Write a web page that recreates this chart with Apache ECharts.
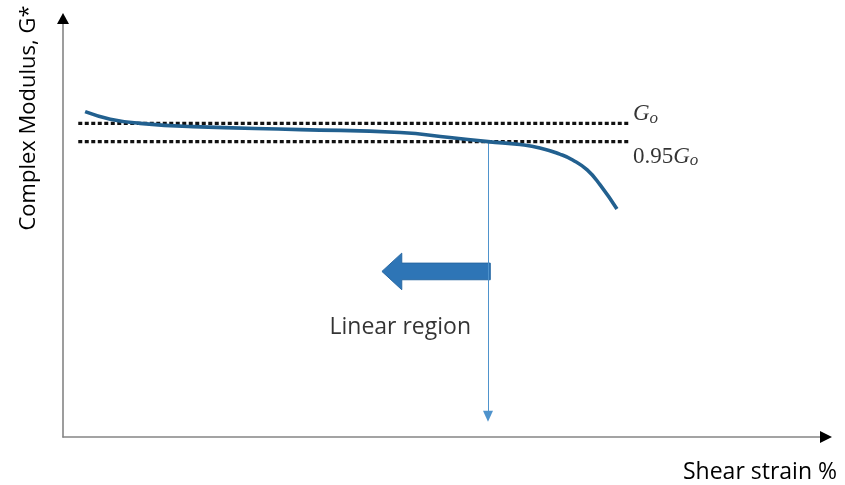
<!DOCTYPE html>
<html>
<head>
<meta charset="utf-8">
<script src="https://cdn.jsdelivr.net/npm/echarts@6/dist/echarts.min.js"></script>
<style>
  html, body { margin: 0; padding: 0; background: #fff; }
  #chart { width: 845px; height: 485px; }
</style>
</head>
<body>
<div id="chart"></div>
<script>
// Modulus vs. strain curve (schematic units, 0–100 on both axes)
const strainPts  = [2.9, 6.2, 10.1, 17.0, 31.1, 44.2, 50.7, 55.7, 59.9, 62.5, 65.1, 66.8, 68.7, 70.4, 72.6];
const modulusPts = [78.2, 76.4, 75.4, 74.6, 73.9, 73.2, 72.0, 71.0, 70.3, 69.5, 68.0, 66.6, 64.2, 60.6, 54.8];

// Reference levels
const refLevels = [75.4, 71.0];          // G_o and 0.95 G_o
const refSpan   = [2.0, 74.3];           // x extent of the dotted lines

// Linear-region limit (where the curve meets 0.95 G_o)
const limitStrain   = 55.7;
const limitArrowEnd = 5.0;

// Left-pointing block arrow: [tailX, headBaseX, tipX, centreY, bodyHalf, headHalf]
const blockArrow = [56.0, 44.4, 41.8, 39.8, 2.0, 4.4];

// Text annotations
const labelG0   = [74.7, 77.6];
const labelG095 = [74.7, 67.4];
const labelLin  = [44.2, 26.4];

const curveData = strainPts.map((x, i) => [x, modulusPts[i]]);

const mathRich = {
  n: { fontFamily: 'Liberation Serif', fontSize: 23, color: '#000' },
  g: { fontFamily: 'Liberation Serif', fontStyle: 'italic', fontSize: 23, color: '#000' },
  s: { fontFamily: 'Liberation Serif', fontStyle: 'italic', fontSize: 17, color: '#000', padding: [8, 0, 0, 0] }
};

const chart = echarts.init(document.getElementById('chart'));
chart.setOption({
  backgroundColor: '#fff',
  animation: false,
  grid: { left: 63, right: 19, top: 21, bottom: 48 },
  xAxis: {
    type: 'value', min: 0, max: 100,
    axisLine: { show: true, lineStyle: { color: '#858585', width: 1.6 } },
    axisTick: { show: false }, axisLabel: { show: false }, splitLine: { show: false }
  },
  yAxis: {
    type: 'value', min: 0, max: 100,
    axisLine: { show: true, lineStyle: { color: '#858585', width: 1.6 } },
    axisTick: { show: false }, axisLabel: { show: false }, splitLine: { show: false }
  },
  graphic: [
    {
      type: 'text', x: 29, y: 118, rotation: Math.PI / 2,
      style: { text: 'Complex Modulus, G*', fontFamily: 'Open Sans', fontSize: 22,
               fill: '#000', align: 'center', verticalAlign: 'middle' }
    },
    {
      type: 'text', x: 837, y: 472,
      style: { text: 'Shear strain %', fontFamily: 'Open Sans', fontSize: 23,
               fill: '#000', align: 'right', verticalAlign: 'middle' }
    }
  ],
  series: [
    {
      // black arrowheads at the ends of both axes
      name: 'axisHeads', type: 'custom', silent: true,
      data: [[100, 0, 0], [0, 100, 1]],
      renderItem: function (params, api) {
        const p = api.coord([api.value(0), api.value(1)]);
        const pts = api.value(2) === 0
          ? [[p[0] - 6, p[1] - 6], [p[0] + 6, p[1]], [p[0] - 6, p[1] + 6]]
          : [[p[0] - 6, p[1] + 3], [p[0], p[1] - 8], [p[0] + 6, p[1] + 3]];
        return { type: 'polygon', shape: { points: pts }, style: { fill: '#000' } };
      },
      z: 10
    },
    {
      name: 'G0', type: 'line', silent: true, symbol: 'none',
      data: [[refSpan[0], refLevels[0]], [refSpan[1], refLevels[0]]],
      lineStyle: { color: '#111', width: 3.2, type: [4, 2.5], cap: 'butt' }
    },
    {
      name: '0.95G0', type: 'line', silent: true, symbol: 'none',
      data: [[refSpan[0], refLevels[1]], [refSpan[1], refLevels[1]]],
      lineStyle: { color: '#111', width: 3.2, type: [4, 2.5], cap: 'butt' }
    },
    {
      name: 'G*', type: 'line', smooth: 0.5, symbol: 'none',
      data: curveData,
      lineStyle: { color: '#22608f', width: 3.6 },
      z: 5,
      markLine: {
        silent: true,
        symbol: ['none', 'triangle'], symbolSize: [10, 11],
        label: { show: false },
        lineStyle: { color: '#4f93cc', width: 1, type: 'solid' },
        itemStyle: { color: '#2e75b6' },
        data: [[{ coord: [limitStrain, refLevels[1]] }, { coord: [limitStrain, limitArrowEnd] }]]
      }
    },
    {
      name: 'arrow', type: 'custom', silent: true,
      data: [blockArrow],
      renderItem: function (params, api) {
        const tail = api.value(0), base = api.value(1), tip = api.value(2);
        const cy = api.value(3), bh = api.value(4), hh = api.value(5);
        const pts = [
          [tail, cy + bh], [base, cy + bh], [base, cy + hh], [tip, cy],
          [base, cy - hh], [base, cy - bh], [tail, cy - bh]
        ].map(p => api.coord(p));
        return {
          type: 'polygon',
          shape: { points: pts },
          style: { fill: '#2e75b6', stroke: '#2868a3', lineWidth: 1 }
        };
      }
    },
    {
      name: 'labels', type: 'scatter', silent: true, symbolSize: 0,
      data: [
        { value: labelG0, label: { formatter: '{g|G}{s|o}' } },
        { value: labelG095, label: { formatter: '{n|0.95}{g|G}{s|o}' } },
        { value: labelLin, label: { formatter: 'Linear region', align: 'center',
            fontFamily: 'Open Sans', fontSize: 23, color: '#000' } }
      ],
      label: {
        show: true, position: 'inside', align: 'left', verticalAlign: 'middle',
        rich: mathRich
      }
    }
  ]
});
</script>
</body>
</html>
